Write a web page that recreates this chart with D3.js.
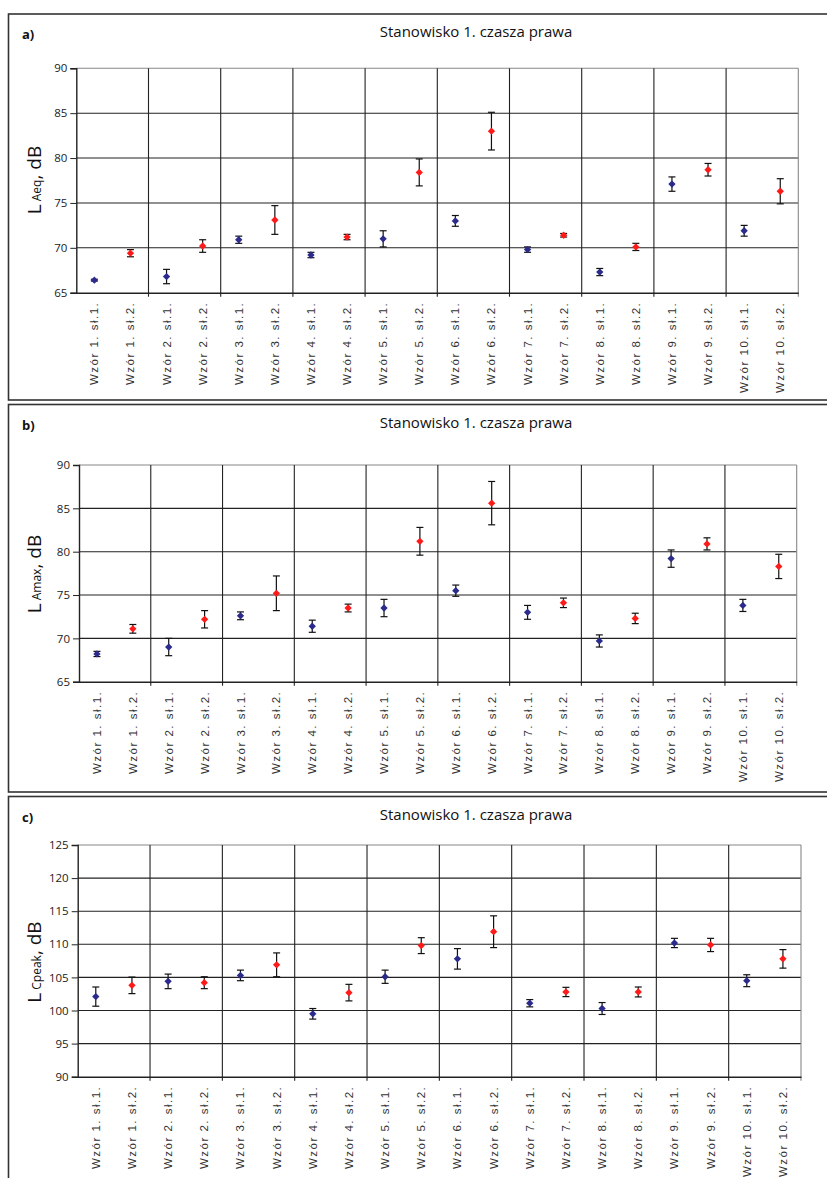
<!DOCTYPE html>
<html>
<head>
<meta charset="utf-8">
<script src="https://cdn.jsdelivr.net/npm/d3@7"></script>
<style>
body { margin:0; background:#fff; }
svg { display:block; font-family:"Open Sans", "Noto Sans", sans-serif; }
</style>
</head>
<body>
<svg id="chart"></svg>
<script>
var categories = [];
for (var i = 1; i <= 10; i++) {
    categories.push("Wzór " + i + ". sł.1.");
    categories.push("Wzór " + i + ". sł.2.");
}

// a) L Aeq
var laeq    = [66.4,69.4,66.8,70.2,70.9,73.1,69.2,71.2,71.0,78.4,73.0,83.0,69.8,71.4,67.3,70.1,77.1,78.7,71.9,76.3];
var laeqErr = [0.1,0.4,0.8,0.7,0.4,1.6,0.3,0.3,0.9,1.5,0.6,2.1,0.3,0.2,0.4,0.4,0.8,0.7,0.6,1.4];

// b) L Amax
var lamax    = [68.2,71.1,69.0,72.2,72.6,75.2,71.4,73.5,73.5,81.2,75.5,85.6,73.0,74.1,69.7,72.3,79.2,80.9,73.8,78.3];
var lamaxErr = [0.3,0.5,1.0,1.0,0.45,2.0,0.7,0.45,1.0,1.6,0.65,2.5,0.8,0.55,0.7,0.6,1.0,0.7,0.7,1.4];

// c) L Cpeak
var lcpeak    = [102.1,103.8,104.4,104.2,105.3,106.9,99.5,102.7,105.1,109.8,107.8,111.9,101.1,102.8,100.3,102.8,110.2,109.9,104.5,107.8];
var lcpeakErr = [1.45,1.25,1.1,0.9,0.8,1.8,0.8,1.25,1.0,1.2,1.55,2.4,0.55,0.7,0.9,0.75,0.7,1.0,0.9,1.4];

var ticksA = [65,70,75,80,85,90];
var ticksC = [90,95,100,105,110,115,120,125];

var title = "Stanowisko 1. czasza prawa";

var svg = d3.select("#chart")
    .attr("width", 827)
    .attr("height", 1178);

var drawPanel = function(p)
{
    var g = svg.append("g");

    // panel frame
    g.append("rect")
        .attr("x", 8.5).attr("y", p.boxTop)
        .attr("width", 840).attr("height", p.boxBottom - p.boxTop)
        .attr("fill", "none")
        .attr("stroke", "#333")
        .attr("stroke-width", 1.6);

    g.append("text")
        .attr("x", 22).attr("y", p.boxTop + 25)
        .attr("font-size", 13).attr("font-weight", "bold")
        .attr("fill", "#111")
        .text(p.letter);

    g.append("text")
        .attr("x", 476).attr("y", p.boxTop + 23)
        .attr("text-anchor", "middle")
        .attr("font-size", 15)
        .attr("fill", "#111")
        .text(title);

    var xScale = d3.scaleBand()
        .domain(categories)
        .range([p.left, p.right]);

    var yScale = d3.scaleLinear()
        .domain([p.ticks[0], p.ticks[p.ticks.length - 1]])
        .range([p.bottom, p.top]);

    // horizontal grid
    g.selectAll("line.hgrid")
        .data(p.ticks.slice(1))
        .enter()
        .append("line")
        .attr("x1", p.left).attr("x2", p.right)
        .attr("y1", function(d){ return yScale(d); })
        .attr("y2", function(d){ return yScale(d); })
        .attr("stroke", function(d, i){ return i == p.ticks.length - 2 ? "#888" : "#222"; })
        .attr("stroke-width", 1.1);

    // group separators
    var bounds = d3.range(2, 21, 2).map(function(k){ return p.left + k * xScale.bandwidth(); });
    g.selectAll("line.vgrid")
        .data(bounds)
        .enter()
        .append("line")
        .attr("x1", function(d){ return d; })
        .attr("x2", function(d){ return d; })
        .attr("y1", p.top)
        .attr("y2", p.bottom + 4)
        .attr("stroke", function(d, i){ return i == 9 ? "#888" : "#222"; })
        .attr("stroke-width", 1.1);

    // axes
    var yAxis = d3.axisLeft(yScale)
        .tickValues(p.ticks)
        .tickSize(6)
        .tickPadding(3);
    var ya = g.append("g")
        .attr("transform", "translate(" + p.left + ",0)")
        .call(yAxis);
    ya.select(".domain").attr("stroke", "#222").attr("stroke-width", 1.4);
    ya.selectAll(".tick line").attr("stroke", "#222");
    ya.selectAll(".tick text")
        .attr("font-size", 11.5)
        .attr("fill", "#222")
        .attr("font-family", "'Liberation Sans Narrow', 'Open Sans', sans-serif");

    var xAxis = d3.axisBottom(xScale).tickSize(0).tickPadding(0);
    var xa = g.append("g")
        .attr("transform", "translate(0," + p.bottom + ")")
        .call(xAxis);
    xa.select(".domain").attr("stroke", "#222").attr("stroke-width", 1.4);
    xa.selectAll(".tick text")
        .attr("transform", "rotate(-90)")
        .attr("text-anchor", "end")
        .attr("x", -9)
        .attr("y", 0)
        .attr("dy", "0.35em")
        .attr("font-size", 11.5)
        .attr("letter-spacing", 1.5)
        .attr("fill", "#333");

    // y label
    var lab = g.append("text")
        .attr("transform", "translate(41," + p.labelY + ") rotate(-90)")
        .attr("text-anchor", "middle")
        .attr("font-size", 19)
        .attr("fill", "#111");
    lab.append("tspan").text("L");
    lab.append("tspan").attr("font-size", 12).attr("dx", 3).text(p.sub);
    lab.append("tspan").text(", dB");

    // error bars
    var eb = g.selectAll("g.err")
        .data(p.values)
        .enter()
        .append("g")
        .attr("stroke", "#111")
        .attr("stroke-width", 1.2);
    var cx = function(d, i){ return xScale(categories[i]) + xScale.bandwidth() / 2; };
    eb.append("line")
        .attr("x1", cx).attr("x2", cx)
        .attr("y1", function(d, i){ return yScale(d + p.err[i]); })
        .attr("y2", function(d, i){ return yScale(d - p.err[i]); });
    eb.append("line")
        .attr("x1", function(d, i){ return cx(d, i) - 3.5; })
        .attr("x2", function(d, i){ return cx(d, i) + 3.5; })
        .attr("y1", function(d, i){ return yScale(d + p.err[i]); })
        .attr("y2", function(d, i){ return yScale(d + p.err[i]); });
    eb.append("line")
        .attr("x1", function(d, i){ return cx(d, i) - 3.5; })
        .attr("x2", function(d, i){ return cx(d, i) + 3.5; })
        .attr("y1", function(d, i){ return yScale(d - p.err[i]); })
        .attr("y2", function(d, i){ return yScale(d - p.err[i]); });

    // diamonds
    var diamond = d3.symbol().type(d3.symbolDiamond2).size(34);
    g.selectAll("path.pt")
        .data(p.values)
        .enter()
        .append("path")
        .attr("d", diamond)
        .attr("transform", function(d, i){ return "translate(" + cx(d, i) + "," + yScale(d) + ")"; })
        .attr("fill", function(d, i){ return i % 2 == 0 ? "#2b2b8c" : "#ff1a1a"; });
}

drawPanel({letter:"a)", boxTop:14, boxBottom:400, left:76.3, right:798.3, top:68.3, bottom:292.7,
           ticks:ticksA, values:laeq, err:laeqErr, sub:"Aeq", labelY:180});
drawPanel({letter:"b)", boxTop:404.5, boxBottom:792, left:79, right:796.7, top:465, bottom:681.7,
           ticks:ticksA, values:lamax, err:lamaxErr, sub:"Amax", labelY:574});
drawPanel({letter:"c)", boxTop:796.5, boxBottom:1200, left:77.7, right:801, top:845, bottom:1076.7,
           ticks:ticksC, values:lcpeak, err:lcpeakErr, sub:"Cpeak", labelY:962});
</script>
</body>
</html>
